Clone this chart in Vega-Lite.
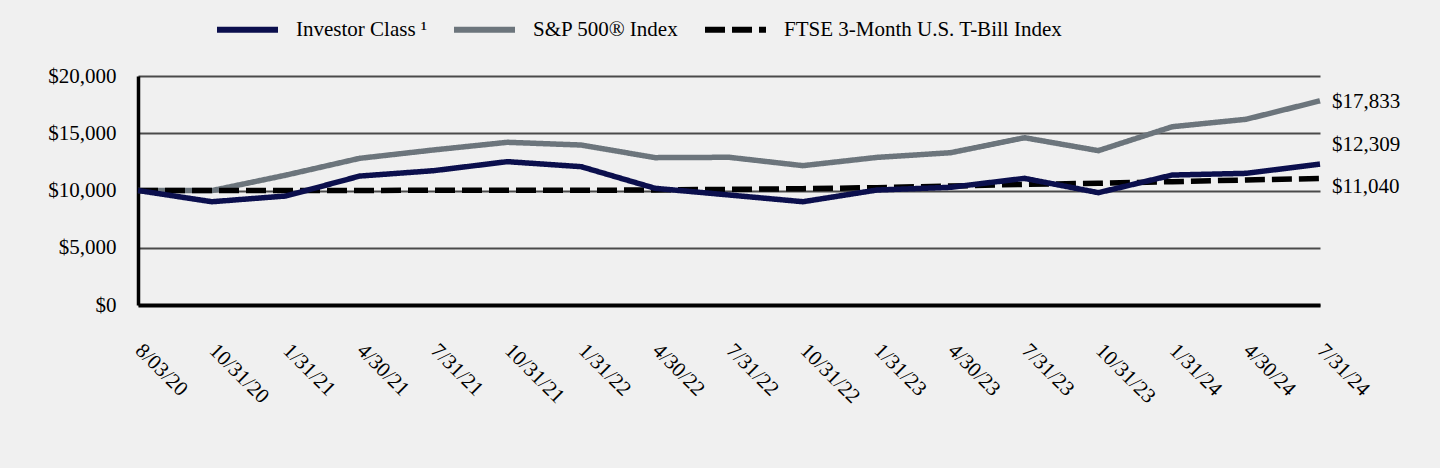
{
  "$schema": "https://vega.github.io/schema/vega-lite/v6.json",
  "width": 1182,
  "height": 229,
  "autosize": {"type": "none"},
  "padding": {"left": 138, "top": 76, "right": 120, "bottom": 163},
  "background": "#f0f0f0",
  "config": {"view": {"stroke": null}, "font": "Liberation Serif"},
  "data": {
    "values": [
      {"date": "8/03/20", "series": "S&P 500® Index", "value": 10000},
      {"date": "10/31/20", "series": "S&P 500® Index", "value": 9990},
      {"date": "1/31/21", "series": "S&P 500® Index", "value": 11340},
      {"date": "4/30/21", "series": "S&P 500® Index", "value": 12810},
      {"date": "7/31/21", "series": "S&P 500® Index", "value": 13540},
      {"date": "10/31/21", "series": "S&P 500® Index", "value": 14210},
      {"date": "1/31/22", "series": "S&P 500® Index", "value": 13970},
      {"date": "4/30/22", "series": "S&P 500® Index", "value": 12870},
      {"date": "7/31/22", "series": "S&P 500® Index", "value": 12900},
      {"date": "10/31/22", "series": "S&P 500® Index", "value": 12170},
      {"date": "1/31/23", "series": "S&P 500® Index", "value": 12890},
      {"date": "4/30/23", "series": "S&P 500® Index", "value": 13300},
      {"date": "7/31/23", "series": "S&P 500® Index", "value": 14610},
      {"date": "10/31/23", "series": "S&P 500® Index", "value": 13480},
      {"date": "1/31/24", "series": "S&P 500® Index", "value": 15570},
      {"date": "4/30/24", "series": "S&P 500® Index", "value": 16220},
      {"date": "7/31/24", "series": "S&P 500® Index", "value": 17833},
      {"date": "8/03/20", "series": "FTSE 3-Month U.S. T-Bill Index", "value": 10000},
      {"date": "10/31/20", "series": "FTSE 3-Month U.S. T-Bill Index", "value": 10005},
      {"date": "1/31/21", "series": "FTSE 3-Month U.S. T-Bill Index", "value": 10010},
      {"date": "4/30/21", "series": "FTSE 3-Month U.S. T-Bill Index", "value": 10010},
      {"date": "7/31/21", "series": "FTSE 3-Month U.S. T-Bill Index", "value": 10012},
      {"date": "10/31/21", "series": "FTSE 3-Month U.S. T-Bill Index", "value": 10015},
      {"date": "1/31/22", "series": "FTSE 3-Month U.S. T-Bill Index", "value": 10020},
      {"date": "4/30/22", "series": "FTSE 3-Month U.S. T-Bill Index", "value": 10044},
      {"date": "7/31/22", "series": "FTSE 3-Month U.S. T-Bill Index", "value": 10100},
      {"date": "10/31/22", "series": "FTSE 3-Month U.S. T-Bill Index", "value": 10160},
      {"date": "1/31/23", "series": "FTSE 3-Month U.S. T-Bill Index", "value": 10250},
      {"date": "4/30/23", "series": "FTSE 3-Month U.S. T-Bill Index", "value": 10390},
      {"date": "7/31/23", "series": "FTSE 3-Month U.S. T-Bill Index", "value": 10540},
      {"date": "10/31/23", "series": "FTSE 3-Month U.S. T-Bill Index", "value": 10630},
      {"date": "1/31/24", "series": "FTSE 3-Month U.S. T-Bill Index", "value": 10770},
      {"date": "4/30/24", "series": "FTSE 3-Month U.S. T-Bill Index", "value": 10920},
      {"date": "7/31/24", "series": "FTSE 3-Month U.S. T-Bill Index", "value": 11040},
      {"date": "8/03/20", "series": "Investor Class ¹", "value": 10000},
      {"date": "10/31/20", "series": "Investor Class ¹", "value": 9020},
      {"date": "1/31/21", "series": "Investor Class ¹", "value": 9520},
      {"date": "4/30/21", "series": "Investor Class ¹", "value": 11260},
      {"date": "7/31/21", "series": "Investor Class ¹", "value": 11730},
      {"date": "10/31/21", "series": "Investor Class ¹", "value": 12520},
      {"date": "1/31/22", "series": "Investor Class ¹", "value": 12080},
      {"date": "4/30/22", "series": "Investor Class ¹", "value": 10190},
      {"date": "7/31/22", "series": "Investor Class ¹", "value": 9610},
      {"date": "10/31/22", "series": "Investor Class ¹", "value": 9020},
      {"date": "1/31/23", "series": "Investor Class ¹", "value": 10040},
      {"date": "4/30/23", "series": "Investor Class ¹", "value": 10280},
      {"date": "7/31/23", "series": "Investor Class ¹", "value": 11060},
      {"date": "10/31/23", "series": "Investor Class ¹", "value": 9810},
      {"date": "1/31/24", "series": "Investor Class ¹", "value": 11350},
      {"date": "4/30/24", "series": "Investor Class ¹", "value": 11500},
      {"date": "7/31/24", "series": "Investor Class ¹", "value": 12309}
    ]
  },
  "encoding": {
    "x": {
      "field": "date",
      "type": "ordinal",
      "sort": ["8/03/20", "10/31/20", "1/31/21", "4/30/21", "7/31/21", "10/31/21", "1/31/22", "4/30/22", "7/31/22", "10/31/22", "1/31/23", "4/30/23", "7/31/23", "10/31/23", "1/31/24", "4/30/24", "7/31/24"],
      "scale": {"type": "point", "padding": 0},
      "axis": {
        "title": null,
        "labelAngle": 45,
        "labelAlign": "left",
        "labelBaseline": "middle",
        "labelPadding": 42,
        "ticks": false,
        "grid": false,
        "domainColor": "#000000",
        "domainWidth": 4,
        "labelFont": "Liberation Serif",
        "labelFontSize": 21,
        "labelColor": "#000000"
      }
    },
    "y": {
      "field": "value",
      "type": "quantitative",
      "scale": {"domain": [0, 20000], "nice": false},
      "axis": {
        "title": null,
        "format": "$,.0f",
        "values": [0, 5000, 10000, 15000, 20000],
        "ticks": false,
        "labelPadding": 22,
        "labelFont": "Liberation Serif",
        "labelFontSize": 21,
        "labelColor": "#000000",
        "domainColor": "#000000",
        "domainWidth": 3.5,
        "gridColor": "#4a4a4a",
        "gridWidth": 2
      }
    }
  },
  "layer": [
    {
      "mark": {"type": "line", "strokeWidth": 5.5, "strokeCap": "butt"},
      "encoding": {
        "color": {
          "field": "series",
          "type": "nominal",
          "scale": {
            "domain": ["Investor Class ¹", "S&P 500® Index", "FTSE 3-Month U.S. T-Bill Index"],
            "range": ["#0b0f4d", "#6c757c", "#000000"]
          },
          "legend": {
            "title": null,
            "orient": "none",
            "legendX": 76,
            "legendY": -80,
            "direction": "horizontal",
            "symbolType": "stroke",
            "symbolSize": 3721,
            "symbolStrokeWidth": 6,
            "labelFont": "Liberation Serif",
            "labelFontSize": 21,
            "labelColor": "#000000",
            "labelOffset": 15,
            "columnPadding": 14,
            "labelLimit": 500
          }
        },
        "strokeDash": {
          "field": "series",
          "type": "nominal",
          "scale": {
            "domain": ["Investor Class ¹", "S&P 500® Index", "FTSE 3-Month U.S. T-Bill Index"],
            "range": [[1, 0], [1, 0], [20, 7]]
          },
          "legend": {
            "title": null,
            "orient": "none",
            "legendX": 76,
            "legendY": -80,
            "direction": "horizontal",
            "symbolType": "stroke",
            "symbolSize": 3721,
            "symbolStrokeWidth": 6,
            "labelFont": "Liberation Serif",
            "labelFontSize": 21,
            "labelColor": "#000000",
            "labelOffset": 15,
            "columnPadding": 14,
            "labelLimit": 500
          }
        }
      }
    },
    {
      "transform": [{"filter": "datum.date === '7/31/24' && datum.series === 'S&P 500® Index'"}],
      "mark": {"type": "text", "align": "left", "baseline": "middle", "dx": 12, "dy": 1, "font": "Liberation Serif", "fontSize": 21, "color": "#000000"},
      "encoding": {"text": {"field": "value", "type": "quantitative", "format": "$,.0f"}}
    },
    {
      "transform": [{"filter": "datum.date === '7/31/24' && datum.series === 'Investor Class ¹'"}],
      "mark": {"type": "text", "align": "left", "baseline": "middle", "dx": 12, "dy": -19, "font": "Liberation Serif", "fontSize": 21, "color": "#000000"},
      "encoding": {"text": {"field": "value", "type": "quantitative", "format": "$,.0f"}}
    },
    {
      "transform": [{"filter": "datum.date === '7/31/24' && datum.series === 'FTSE 3-Month U.S. T-Bill Index'"}],
      "mark": {"type": "text", "align": "left", "baseline": "middle", "dx": 12, "dy": 8, "font": "Liberation Serif", "fontSize": 21, "color": "#000000"},
      "encoding": {"text": {"field": "value", "type": "quantitative", "format": "$,.0f"}}
    }
  ]
}
